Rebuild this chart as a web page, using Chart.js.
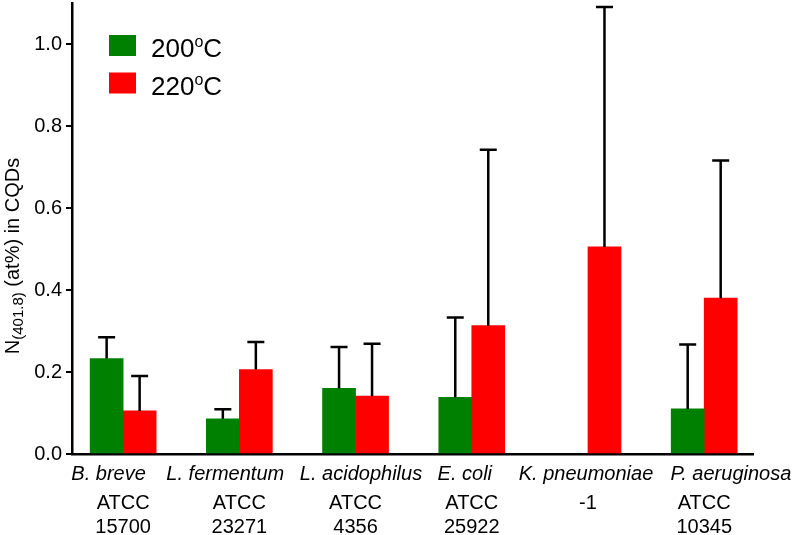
<!DOCTYPE html>
<html>
<head>
<meta charset="utf-8">
<script src="https://cdn.jsdelivr.net/npm/chart.js@4.4.1/dist/chart.umd.min.js"></script>
<style>
  html, body { margin: 0; padding: 0; background: #fff; }
  #wrap { width: 796px; height: 535px; position: relative; }
</style>
</head>
<body>
<div id="wrap"><canvas id="chart"></canvas></div>
<script>
// data
const species = ['B. breve', 'L. fermentum', 'L. acidophilus', 'E. coli', 'K. pneumoniae', 'P. aeruginosa'];
const strains = [['ATCC', '15700'], ['ATCC', '23271'], ['ATCC', '4356'], ['ATCC', '25922'], ['-1'], ['ATCC', '10345']];
const temps = ['200', '220'];
const n200 = [0.233, 0.086, 0.160, 0.138, null, 0.110];
const sd200 = [0.052, 0.023, 0.101, 0.195, null, 0.157];
const n220 = [0.105, 0.206, 0.141, 0.313, 0.505, 0.380];
const sd220 = [0.085, 0.067, 0.128, 0.429, 0.585, 0.336];
const yTicks = [0, 0.2, 0.4, 0.6, 0.8, 1.0];

// the original nudges the italic names sideways so they don't collide
const nameTickAt = [-0.125, 0.879, 2.047, 2.94, 3.983, 5.23];

const FONT = '"Liberation Sans", Arial, Helvetica, sans-serif';
const colors = ['#008000', '#ff0000'];

const errorBars = {
    id: 'errorBars',
    afterDatasetsDraw(chart) {
        const { ctx } = chart;
        const y = chart.scales.y;
        ctx.save();
        ctx.strokeStyle = '#000';
        ctx.lineWidth = 2.5;
        chart.data.datasets.forEach((ds, di) => {
            chart.getDatasetMeta(di).data.forEach((bar, i) => {
                const v = ds.data[i].y;
                const e = ds.errors[i];
                if (v == null || e == null) return;
                const top = y.getPixelForValue(v + e);
                ctx.beginPath();
                ctx.moveTo(bar.x, bar.y);
                ctx.lineTo(bar.x, top);
                ctx.moveTo(bar.x - 8.5, top);
                ctx.lineTo(bar.x + 8.5, top);
                ctx.stroke();
            });
        });
        ctx.restore();
    }
};

// legend with superscript degree "o" and the rotated y title with its subscript
const annotate = {
    id: 'annotate',
    afterDraw(chart) {
        const { ctx, chartArea } = chart;
        ctx.save();
        ctx.textBaseline = 'alphabetic';
        chart.data.datasets.forEach((ds, i) => {
            const bx = chartArea.left + 37;
            const by = chartArea.top + 32 + i * 37.5;
            ctx.fillStyle = ds.backgroundColor;
            ctx.fillRect(bx, by, 27, 21);
            ctx.fillStyle = '#000';
            let x = bx + 42;
            const base = by + 22;
            ctx.font = '26px ' + FONT;
            ctx.fillText(ds.label, x, base);
            x += ctx.measureText(ds.label).width;
            ctx.font = '16px ' + FONT;
            ctx.fillText('o', x, base - 10);
            x += ctx.measureText('o').width;
            ctx.font = '26px ' + FONT;
            ctx.fillText('C', x, base);
        });

        // y title
        const parts = [
            { t: 'N', f: '20px ' + FONT, dy: 0 },
            { t: '(401.8)', f: '15px ' + FONT, dy: 4 },
            { t: ' (at%) in CQDs', f: '20px ' + FONT, dy: 0 }
        ];
        let total = 0;
        parts.forEach(p => { ctx.font = p.f; p.w = ctx.measureText(p.t).width; total += p.w; });
        ctx.translate(19, 256);
        ctx.rotate(-Math.PI / 2);
        let x = -total / 2;
        parts.forEach(p => {
            ctx.font = p.f;
            ctx.fillText(p.t, x, p.dy);
            x += p.w;
        });
        ctx.restore();
    }
};

const mkData = (vals) => vals.map((v, i) => ({ x: i, y: v }));

// drop the label half-height padding Chart.js reserves at the ends of each axis
const noEndPadding = s => { s.paddingTop = 0; s.paddingBottom = 0; s.paddingLeft = 0; s.paddingRight = 0; };

new Chart(document.getElementById('chart'), {
    type: 'bar',
    data: {
        datasets: [
            { label: temps[0], data: mkData(n200), errors: sd200, backgroundColor: colors[0], xAxisID: 'x', yAxisID: 'y' },
            { label: temps[1], data: mkData(n220), errors: sd220, backgroundColor: colors[1], xAxisID: 'x', yAxisID: 'y' }
        ]
    },
    options: {
        responsive: true,
        maintainAspectRatio: false,
        animation: false,
        barThickness: 33,
        layout: { padding: { left: 0, right: 43, top: 3, bottom: 0 } },
        plugins: {
            legend: { display: false },
            title: { display: false },
            tooltip: { enabled: false }
        },
        scales: {
            x: {
                type: 'linear',
                position: 'bottom',
                weight: 0,
                offset: false,
                min: -0.44,
                max: 5.42,
                grid: { display: false, drawTicks: false, tickLength: 0 },
                border: { display: true, color: '#000', width: 2.5 },
                afterBuildTicks: s => { s.ticks = nameTickAt.map(v => ({ value: v })); },
                afterFit: s => { s.height = 36; noEndPadding(s); },
                ticks: {
                    autoSkip: false,
                    maxRotation: 0,
                    minRotation: 0,
                    padding: 8,
                    color: '#000',
                    font: { family: FONT, size: 20, style: 'italic', lineHeight: 1.2 },
                    callback: (v, i) => species[i]
                }
            },
            x2: {
                type: 'linear',
                position: 'bottom',
                weight: 1,
                offset: false,
                min: -0.44,
                max: 5.42,
                grid: { display: false, drawTicks: false, tickLength: 0 },
                border: { display: false },
                afterBuildTicks: s => { s.ticks = species.map((_, i) => ({ value: i })); },
                afterFit: s => { s.height = 45; noEndPadding(s); },
                ticks: {
                    autoSkip: false,
                    maxRotation: 0,
                    minRotation: 0,
                    padding: 1,
                    color: '#000',
                    font: { family: FONT, size: 20, lineHeight: 1.2 },
                    callback: (v, i) => strains[i]
                }
            },
            y: {
                min: 0,
                max: 1.1,
                afterBuildTicks: s => { s.ticks = yTicks.map(v => ({ value: v })); },
                afterFit: s => { s.width = 72; noEndPadding(s); },
                grid: { display: true, drawOnChartArea: false, drawTicks: true, tickLength: 6, color: '#000', lineWidth: 2 },
                border: { display: true, color: '#000', width: 2.5 },
                ticks: {
                    padding: 4,
                    color: '#000',
                    font: { family: FONT, size: 20 },
                    callback: v => v.toFixed(1)
                }
            }
        }
    },
    plugins: [errorBars, annotate]
});
</script>
</body>
</html>
